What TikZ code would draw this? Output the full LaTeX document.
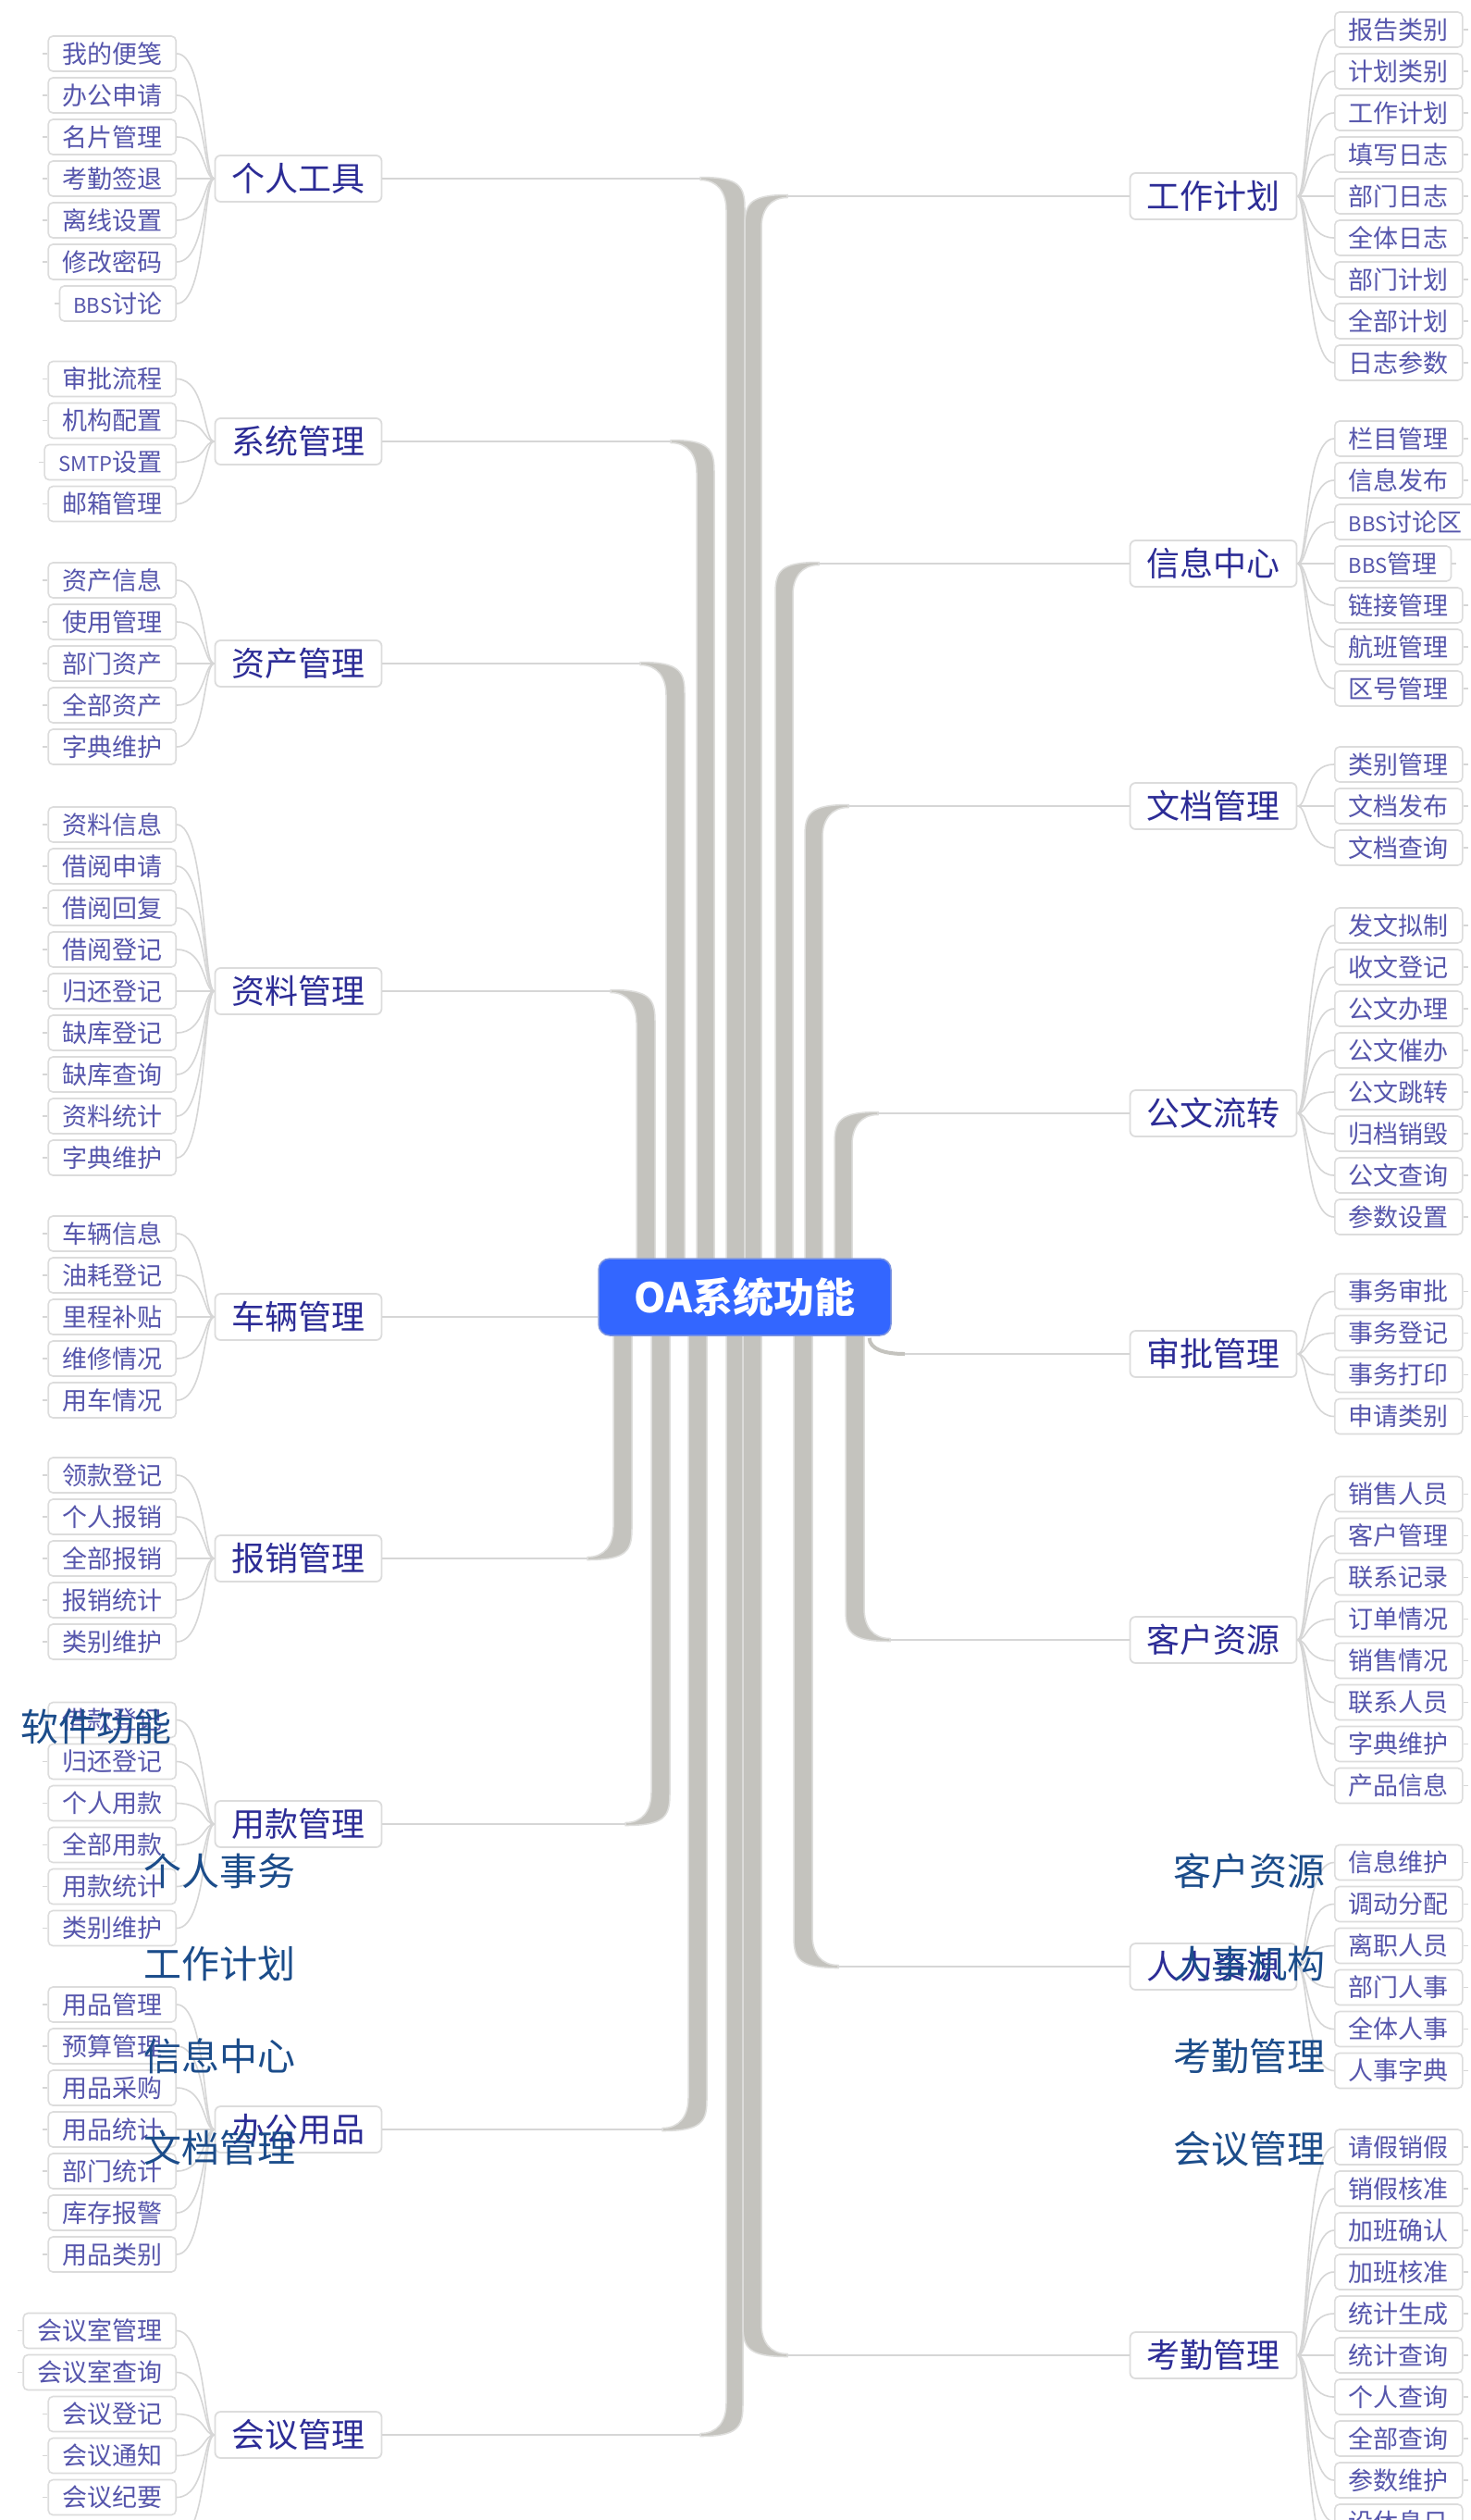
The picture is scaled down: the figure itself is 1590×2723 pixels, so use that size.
\documentclass[tikz,border=0pt]{standalone}
\usepackage{fontspec}
\newfontfamily\cjk{Noto Sans CJK SC}
\usetikzlibrary{calc}
\definecolor{barfill}{HTML}{C4C3BE}
\definecolor{baredge}{HTML}{DEDEDC}
\definecolor{linecol}{HTML}{D6D6D6}
\definecolor{leafborder}{HTML}{DCDCDC}
\definecolor{leaftext}{HTML}{5656AC}
\definecolor{branchtext}{HTML}{2C2C96}
\definecolor{rootblue}{HTML}{3366FF}
\definecolor{rootedge}{HTML}{7D95E0}
\definecolor{straytext}{HTML}{1B4C8A}

\newcommand{\lat}[1]{{\fontsize{22}{24}\selectfont #1}}

\tikzset{
  leaf/.style={draw=leafborder, line width=1.6pt, rounded corners=5pt, fill=white,
    font=\cjk\fontsize{27}{30}\selectfont, text=leaftext, inner xsep=15pt, inner ysep=0pt,
    minimum height=38pt},
  branch/.style={draw=leafborder, line width=1.8pt, rounded corners=6pt, fill=white,
    font=\cjk\fontsize{36}{40}\selectfont, text=branchtext, minimum width=180pt,
    minimum height=50pt, inner sep=0pt},
  rootbox/.style={fill=rootblue, draw=rootedge, line width=1.5pt, rounded corners=12pt,
    minimum width=316pt, minimum height=83pt, inner sep=0pt, text=white,
    font=\cjk\bfseries\fontsize{44}{48}\selectfont},
  leafline/.style={draw=linecol, line width=1.6pt},
  stub/.style={draw=linecol, line width=1.6pt},
  hline/.style={draw=linecol, line width=2.5pt},
  barstyle/.style={fill=barfill, draw=baredge, line width=1.5pt},
  stray/.style={font=\cjk\fontsize{41}{45}\selectfont, text=straytext, inner sep=0pt}
}

\newcommand{\LGroup}[5]{%
  \node[branch] (#1) at (322.5,#3) {#2};
  \foreach \lbl [count=\i from 0] in {#5} {
    \node[leaf, anchor=east] (#1-\i) at (191,{#4+45*\i}) {\lbl};
    \draw[leafline] (#1-\i.east) .. controls +(32,0) and +(-12,0) .. (#1.west);
    \draw[stub] (#1-\i.west) -- +(-5,0);
  }%
}
\newcommand{\RGroup}[5]{%
  \node[branch] (#1) at (1311.5,#3) {#2};
  \foreach \lbl [count=\i from 0] in {#5} {
    \node[leaf, anchor=west] (#1-\i) at (1442,{#4+45*\i}) {\lbl};
    \draw[leafline] (#1.east) .. controls +(12,0) and +(-32,0) .. (#1-\i.west);
    \draw[stub] (#1-\i.east) -- +(5,0);
  }%
}
% upper-left bar: node, a, b, yl
\newcommand{\BarUL}[4]{%
  \path[barstyle] ({#2-28},{#4-1.5}) .. controls ({#3-6},{#4-1.5}) and (#3,{#4+8}) .. (#3,{#4+32})
    -- (#3,1385) -- (#2,1385) -- (#2,{#4+34}) .. controls (#2,{#4+14}) and ({#2-10},{#4+1.5}) .. ({#2-28},{#4+1.5}) -- cycle;
  \coordinate (#1-in) at ({#2-28},#4);
  \draw[hline] (#1.east) -- (#1-in);
}
\newcommand{\BarUR}[4]{%
  \path[barstyle] ({#3+28},{#4-1.5}) .. controls ({#2+6},{#4-1.5}) and (#2,{#4+8}) .. (#2,{#4+32})
    -- (#2,1385) -- (#3,1385) -- (#3,{#4+34}) .. controls (#3,{#4+14}) and ({#3+10},{#4+1.5}) .. ({#3+28},{#4+1.5}) -- cycle;
  \coordinate (#1-in) at ({#3+28},#4);
  \draw[hline] (#1.west) -- (#1-in);
}
\newcommand{\BarLL}[4]{%
  \path[barstyle] ({#2-28},{#4+1.5}) .. controls ({#3-6},{#4+1.5}) and (#3,{#4-8}) .. (#3,{#4-32})
    -- (#3,1420) -- (#2,1420) -- (#2,{#4-34}) .. controls (#2,{#4-14}) and ({#2-10},{#4-1.5}) .. ({#2-28},{#4-1.5}) -- cycle;
  \coordinate (#1-in) at ({#2-28},#4);
  \draw[hline] (#1.east) -- (#1-in);
}
\newcommand{\BarLR}[4]{%
  \path[barstyle] ({#3+28},{#4+1.5}) .. controls ({#2+6},{#4+1.5}) and (#2,{#4-8}) .. (#2,{#4-32})
    -- (#2,1420) -- (#3,1420) -- (#3,{#4-34}) .. controls (#3,{#4-14}) and ({#3+10},{#4-1.5}) .. ({#3+28},{#4-1.5}) -- cycle;
  \coordinate (#1-in) at ({#3+28},#4);
  \draw[hline] (#1.west) -- (#1-in);
}

\begin{document}
\begin{tikzpicture}[x=1pt,y=-1pt]
\useasboundingbox (0,0) rectangle (1590,2723);
\fill[white] (0,0) rectangle (1590,2723);

% ---------- left groups ----------
\LGroup{L1}{个人工具}{193}{58}{我的便笺,办公申请,名片管理,考勤签退,离线设置,修改密码,\lat{BBS}讨论}
\LGroup{L2}{系统管理}{477}{409.5}{审批流程,机构配置,\lat{SMTP}设置,邮箱管理}
\LGroup{L3}{资产管理}{717}{627}{资产信息,使用管理,部门资产,全部资产,字典维护}
\LGroup{L4}{资料管理}{1071}{891}{资料信息,借阅申请,借阅回复,借阅登记,归还登记,缺库登记,缺库查询,资料统计,字典维护}
\LGroup{L5}{车辆管理}{1423}{1333}{车辆信息,油耗登记,里程补贴,维修情况,用车情况}
\LGroup{L6}{报销管理}{1684}{1594}{领款登记,个人报销,全部报销,报销统计,类别维护}
\LGroup{L7}{用款管理}{1971}{1858.5}{借款登记,归还登记,个人用款,全部用款,用款统计,类别维护}
\LGroup{L8}{办公用品}{2301}{2166}{用品管理,预算管理,用品采购,用品统计,部门统计,库存报警,用品类别}
\LGroup{L9}{会议管理}{2631}{2518.5}{会议室管理,会议室查询,会议登记,会议通知,会议纪要}
\coordinate (L9-x) at (191,2743.5);
\draw[leafline] (L9-x) .. controls +(32,0) and +(-12,0) .. (L9.west);

% ---------- right groups ----------
\RGroup{R1}{工作计划}{212}{32}{报告类别,计划类别,工作计划,填写日志,部门日志,全体日志,部门计划,全部计划,日志参数}
\RGroup{R2}{信息中心}{609}{474}{栏目管理,信息发布,\lat{BBS}讨论区,\lat{BBS}管理,链接管理,航班管理,区号管理}
\RGroup{R3}{文档管理}{871}{826}{类别管理,文档发布,文档查询}
\RGroup{R4}{公文流转}{1203}{1000}{发文拟制,收文登记,公文办理,公文催办,公文跳转,归档销毁,公文查询,参数设置}
\RGroup{R5}{审批管理}{1463}{1395.5}{事务审批,事务登记,事务打印,申请类别}
\RGroup{R6}{客户资源}{1772}{1614.5}{销售人员,客户管理,联系记录,订单情况,销售情况,联系人员,字典维护,产品信息}
\RGroup{R7}{人力资源}{2125}{2012.5}{信息维护,调动分配,离职人员,部门人事,全体人事,人事字典}
\RGroup{R8}{考勤管理}{2545}{2320}{请假销假,销假核准,加班确认,加班核准,统计生成,统计查询,个人查询,全部查询,参数维护,设休息日}
\coordinate (R8-x) at (1442,2770);
\draw[leafline] (R8.east) .. controls +(12,0) and +(-32,0) .. (R8-x);

% ---------- trunk bars ----------
\BarUL{L1}{785}{805}{193}
\BarUL{L2}{753}{772}{477}
\BarUL{L3}{720}{740}{717}
\BarUL{L4}{688}{708}{1071}
\BarUR{R1}{805}{823}{212}
\BarUR{R2}{838}{857}{609}
\BarUR{R3}{870}{889}{871}
\BarUR{R4}{902}{921}{1203}
\BarLL{L6}{663}{683}{1684}
\BarLL{L7}{704}{724}{1971}
\BarLL{L8}{744}{764}{2301}
\BarLL{L9}{785}{803}{2631}
\BarLR{R6}{914}{934}{1772}
\BarLR{R7}{858}{878}{2125}
\BarLR{R8}{803}{823}{2545}

% ---------- root ----------
\node[rootbox] (root) at (805,1401.5) {OA系统功能};
\draw[hline] (L5.east) -- (L5.east -| root.west);
\coordinate (R5-out) at ($(root.south east)+(-24,2)$);
\coordinate (R5-in) at (978,1463);
\draw[draw=barfill, line width=4pt] (R5-out) .. controls +(0,12) and +(-22,0) .. (R5-in);
\draw[hline] (R5-in) -- (R5.west);

% ---------- stray texts ----------
\node[stray] (s1) at (104,1866) {软件功能};
\node[stray] (s2) at (237,2022) {个人事务};
\node[stray] (s3) at (237,2122) {工作计划};
\node[stray] (s4) at (237,2222) {信息中心};
\node[stray] (s5) at (237,2321) {文档管理};
\node[stray] (s6) at (1350,2022) {客户资源};
\node[stray] (s7) at (1350,2122) {人事机构};
\node[stray] (s8) at (1350,2222) {考勤管理};
\node[stray] (s9) at (1350,2322) {会议管理};
\end{tikzpicture}
\end{document}
